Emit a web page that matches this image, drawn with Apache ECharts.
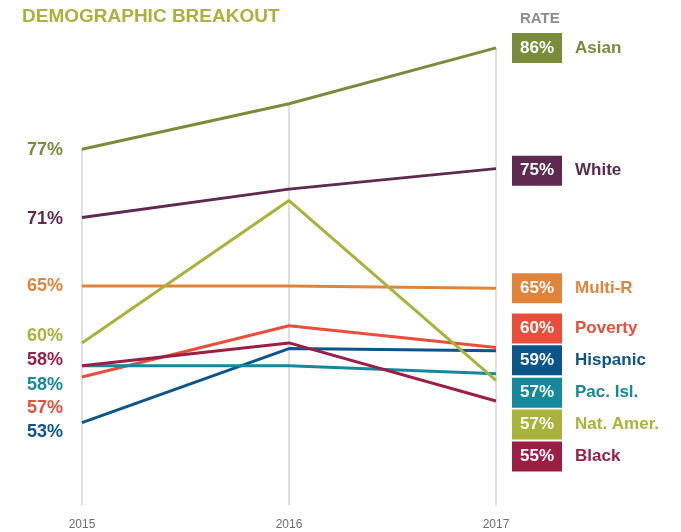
<!DOCTYPE html>
<html>
<head>
<meta charset="utf-8">
<script src="https://cdn.jsdelivr.net/npm/echarts@6/dist/echarts.min.js"></script>
<style>
  html, body { margin: 0; padding: 0; background: #fff; }
  #main { width: 681px; height: 532px; }
</style>
</head>
<body>
<div id="main"></div>
<script type="text/javascript">
// years on the x axis
var years = ['2015', '2016', '2017'];

// groups, top to bottom as in the legend
var groups   = ['Asian', 'White', 'Multi-R', 'Poverty', 'Hispanic', 'Pac. Isl.', 'Nat. Amer.', 'Black'];
var asian    = [77, 81.0, 85.9];
var white    = [71, 73.5, 75.3];
var multiR   = [65, 65.0, 64.8];
var poverty  = [57, 61.5, 59.6];
var hispanic = [53, 59.5, 59.3];
var pacIsl   = [58, 58.0, 57.3];
var natAmer  = [60, 72.5, 56.7];
var black    = [58, 60.0, 54.9];

var colors = ['#7b8b3b', '#5f2a4f', '#e0843b', '#e94e3b', '#0c558b', '#13899b', '#a9b23b', '#9c1e45'];
var yMin = 45.75, yMax = 90;

var font = "'Liberation Sans', sans-serif";
var allData = [asian, white, multiR, poverty, hispanic, pacIsl, natAmer, black];
// nudges to keep labels from overlapping
var leftShift  = [1, 1, 0, 31, 9, 19, -7, -6];
var rightShift = [0, 2, 0, -19, 9.5, 19, 44, 55.5];

var series = [];
allData.forEach(function (d, i) {
    var s = {
        name: groups[i],
        type: 'line',
        data: d,
        symbol: 'circle',
        symbolSize: 0.1,
        lineStyle: { color: colors[i], width: 3 },
        itemStyle: { color: colors[i] },
        z: 3 + i,
        label: {
            show: true,
            position: 'left',
            distance: 19,
            offset: [0, leftShift[i]],
            color: colors[i],
            fontFamily: font,
            fontWeight: 'bold',
            fontSize: 18,
            formatter: function (p) { return p.dataIndex === 0 ? Math.round(p.value) + '%' : ''; }
        },
        endLabel: {
            show: true,
            distance: 16,
            offset: [0, rightShift[i]],
            formatter: function (p) { return '{b|' + Math.round(p.value) + '%}{n|' + groups[i] + '}'; },
            rich: {
                b: {
                    backgroundColor: colors[i], color: '#fff', width: 50, height: 30,
                    lineHeight: 30, align: 'center', fontSize: 17, fontWeight: 'bold', fontFamily: font
                },
                n: {
                    color: colors[i], padding: [0, 0, 0, 13], fontSize: 17,
                    fontWeight: 'bold', fontFamily: font
                }
            }
        }
    };
    if (i === 0) {
        // vertical guides drop from the top line down to the axis
        s.markLine = {
            silent: true,
            symbol: 'none',
            label: { show: false },
            lineStyle: { color: '#d4d4d4', width: 1.5, type: 'solid' },
            z: 1,
            data: years.map(function (y, k) {
                return [{ coord: [y, asian[k]] }, { coord: [y, yMin] }];
            })
        };
    }
    series.push(s);
});

var chart = echarts.init(document.getElementById('main'));
var option = {
    animation: false,
    title: [
        {
            text: 'DEMOGRAPHIC BREAKOUT', left: 17, top: 2,
            textStyle: { color: '#a9b23b', fontFamily: font, fontWeight: 'bold', fontSize: 19 }
        },
        {
            text: 'RATE', left: 515, top: 6,
            textStyle: { color: '#8b8c8e', fontFamily: font, fontWeight: 'bold', fontSize: 15 }
        }
    ],
    grid: { left: 82, right: 185, top: 1.2, bottom: 26.8 },
    xAxis: {
        type: 'category',
        data: years,
        boundaryGap: false,
        axisLine: { show: false },
        axisTick: { show: false },
        axisLabel: { color: '#6d6d6d', fontFamily: font, fontSize: 12, margin: 13 }
    },
    yAxis: {
        type: 'value',
        min: yMin,
        max: yMax,
        show: false,
        splitLine: { show: false }
    },
    series: series
};
chart.setOption(option);
</script>
</body>
</html>
